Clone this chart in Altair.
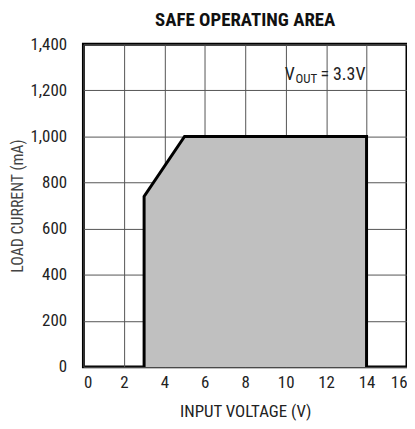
import altair as alt
import pandas as pd

# Safe operating area outline (input voltage V, load current mA)
soa_v = [3, 3, 5, 14, 14]
soa_i = [0, 740, 1000, 1000, 0]
x_ticks = [0, 2, 4, 6, 8, 10, 12, 14, 16]
y_ticks = [0, 200, 400, 600, 800, 1000, 1200, 1400]

FONT = "Liberation Sans Narrow, Roboto Condensed, Liberation Sans, sans-serif"

outline = pd.DataFrame({"v": soa_v, "i": soa_i, "o": list(range(len(soa_v)))})
fill_df = pd.DataFrame({"v": soa_v[1:4], "i": soa_i[1:4]})

xs = alt.Scale(domain=[0, 16], nice=False, zero=False)
ys = alt.Scale(domain=[0, 1400], nice=False)

xaxis = alt.Axis(values=x_ticks, grid=True, gridColor="#555", gridWidth=1, ticks=False,
                 domain=False, labelFontSize=17, labelPadding=8, labelColor="#222",
                 format="d",
                 title="INPUT VOLTAGE (V)", titleFontSize=17, titleFontWeight="normal",
                 titlePadding=13, titleColor="#222", labelFont=FONT, titleFont=FONT)
yaxis = alt.Axis(values=y_ticks, grid=True, gridColor="#555", gridWidth=1, ticks=False,
                 domain=False, labelFontSize=17, labelPadding=17, labelColor="#222",
                 format=",d", title="LOAD CURRENT (mA)", titleFontSize=16,
                 titleFontWeight="normal", titleColor="#444", titlePadding=4,
                 labelFont=FONT, titleFont=FONT)

area = alt.Chart(fill_df).mark_area(color="#c0c0c0", opacity=1).encode(
    x=alt.X("v:Q", scale=xs, axis=xaxis),
    y=alt.Y("i:Q", scale=ys, axis=yaxis),
    y2=alt.datum(0),
)

line = alt.Chart(outline).mark_line(color="black", strokeWidth=3, strokeJoin="miter").encode(
    x=alt.X("v:Q", scale=xs),
    y=alt.Y("i:Q", scale=ys),
    order="o:Q",
)

lab_x = [9.95]
lab_y = [1265]
lab = pd.DataFrame({"v": lab_x, "i": lab_y})
t1 = alt.Chart(lab).mark_text(text="V", align="left", baseline="middle", fontSize=18,
                              font=FONT, color="#222").encode(
    x=alt.X("v:Q", scale=xs), y=alt.Y("i:Q", scale=ys))
t2 = alt.Chart(lab).mark_text(text="OUT", align="left", baseline="middle", fontSize=13,
                              font=FONT, color="#222", dx=11, dy=4).encode(
    x=alt.X("v:Q", scale=xs), y=alt.Y("i:Q", scale=ys))
t3 = alt.Chart(lab).mark_text(text="= 3.3V", align="left", baseline="middle", fontSize=18,
                              font=FONT, color="#222", dx=36).encode(
    x=alt.X("v:Q", scale=xs), y=alt.Y("i:Q", scale=ys))

chart = alt.layer(area, line, t1, t2, t3).properties(
    width=326, height=325,
    title=alt.TitleParams("SAFE OPERATING AREA", font=FONT, fontSize=19, fontWeight="bold",
                          color="#111", offset=5),
    autosize=alt.AutoSizeParams(type="none"),
    padding={"left": 76, "top": 35, "right": 0, "bottom": 60},
).configure_view(stroke="black", strokeWidth=3)

chart.save("out.html", embed_options={"renderer": "svg", "actions": False})
